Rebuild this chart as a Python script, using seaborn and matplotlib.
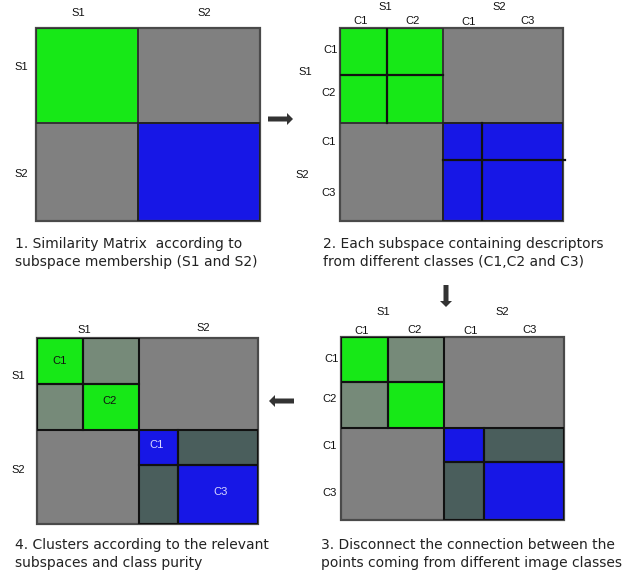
import numpy as np
import matplotlib
matplotlib.use("Agg")
import matplotlib.pyplot as plt
from matplotlib.colors import ListedColormap
from matplotlib.patches import Rectangle
import seaborn as sns

# ---- data ----
# colour categories: 0 gray (between subspaces), 1 green (S1), 2 blue (S2),
# 3 sage (S1, cut between classes), 4 slate (S2, cut between classes)
palette = ["#808080", "#17e817", "#1717e6", "#768a79", "#4a5e5c"]

# panel 1: subspaces only
p1_cols = [102, 121]
p1_rows = [95, 97]
p1_blocks = [[1, 0],
             [0, 2]]
p1_labels = ["S1", "S2"]

# panel 2: subspaces split into classes (still connected)
p2_cols = [47, 56, 39, 81]
p2_rows = [47, 48, 37, 61]
p2_blocks = [[1, 1, 0, 0],
             [1, 1, 0, 0],
             [0, 0, 2, 2],
             [0, 0, 2, 2]]
class_labels = ["C1", "C2", "C1", "C3"]

# panel 3: connections between classes removed
p3_cols = [47, 56, 40, 80]
p3_rows = [45, 46, 34, 58]
p3_blocks = [[1, 3, 0, 0],
             [3, 1, 0, 0],
             [0, 0, 2, 4],
             [0, 0, 4, 2]]

# panel 4: clusters
p4_cols = [46, 56, 39, 80]
p4_rows = [46, 46, 35, 59]
p4_blocks = p3_blocks

captions = [
    "1. Similarity Matrix  according to\nsubspace membership (S1 and S2)",
    "2. Each subspace containing descriptors\nfrom different classes (C1,C2 and C3)",
    "3. Disconnect the connection between the\npoints coming from different image classes",
    "4. Clusters according to the relevant\nsubspaces and class purity",
]

W, H = 634, 573
fig = plt.figure(figsize=(W / 100, H / 100), dpi=100)
fig.patch.set_facecolor("white")
cmap = ListedColormap(palette)
LAB = dict(family=["Liberation Sans", "DejaVu Sans"], fontsize=8, color="#111111")
CAP = dict(family=["DejaVu Sans"], fontsize=10, color="#222222")


def px_axes(x0, y0, x1, y1):
    return fig.add_axes([x0 / W, 1 - y1 / H, (x1 - x0) / W, (y1 - y0) / H])


def expand(blocks, rows, cols):
    b = np.asarray(blocks)
    m = np.repeat(b, rows, axis=0)
    return np.repeat(m, cols, axis=1)


def draw_matrix(box, blocks, rows, cols):
    ax = px_axes(*box)
    mat = expand(blocks, rows, cols)
    sns.heatmap(mat, cmap=cmap, vmin=-0.5, vmax=len(palette) - 0.5, cbar=False,
                ax=ax, xticklabels=False, yticklabels=False, rasterized=True)
    ax.set_axis_off()
    ce = np.concatenate([[0], np.cumsum(cols)])
    re = np.concatenate([[0], np.cumsum(rows)])
    ax.add_patch(Rectangle((0, 0), ce[-1], re[-1], fill=False, ec="#4a4a4a", lw=1.6,
                           clip_on=False))
    return ax, ce, re


def fig_text(x, y, s, **kw):
    fig.text(x / W, 1 - y / H, s, ha="center", va="center", **kw)


# ---- panel 1 ----
ax, ce, re = draw_matrix((36, 28, 260, 221), p1_blocks, p1_rows, p1_cols)
ax.add_patch(Rectangle((0, 0), ce[1], re[1], fill=False, ec="#333333", lw=1.4))
ax.add_patch(Rectangle((ce[1], re[1]), ce[2] - ce[1], re[2] - re[1], fill=False, ec="#222222", lw=1.4))
fig_text(78, 13, p1_labels[0], **LAB)
fig_text(204, 13, p1_labels[1], **LAB)
fig_text(21, 67, p1_labels[0], **LAB)
fig_text(21, 174, p1_labels[1], **LAB)

# ---- panel 2 ----
ax, ce, re = draw_matrix((340, 28, 563, 221), p2_blocks, p2_rows, p2_cols)
ax.add_patch(Rectangle((0, 0), ce[2], re[2], fill=False, ec="#333333", lw=1.4))
ax.add_patch(Rectangle((ce[2], re[2]), ce[4] - ce[2], re[4] - re[2], fill=False, ec="#222222", lw=1.4))
ax.plot([ce[1], ce[1]], [0, re[2]], color="#111111", lw=1.6)
ax.plot([0, ce[2]], [re[1], re[1]], color="#111111", lw=1.6)
ax.plot([ce[3], ce[3]], [re[2], re[4]], color="#111111", lw=1.6)
ax.plot([ce[2], ce[4] + 2], [re[3], re[3]], color="#111111", lw=1.6, clip_on=False)
fig_text(385, 7, "S1", **LAB)
fig_text(499, 7, "S2", **LAB)
for (x, y), s in zip([(361, 21), (413, 21), (469, 22), (528, 21)], class_labels):
    fig_text(x, y, s, **LAB)
for (x, y), s in zip([(331, 50), (329, 93), (329, 142), (329, 193)], class_labels):
    fig_text(x, y, s, **LAB)
fig_text(305, 72, "S1", **LAB)
fig_text(302, 175, "S2", **LAB)


def outline_blocks(ax, ce, re):
    for i in range(4):
        for j in range(4):
            same = (i < 2) == (j < 2)
            if same:
                ax.add_patch(Rectangle((ce[j], re[i]), ce[j + 1] - ce[j], re[i + 1] - re[i],
                                       fill=False, ec="#111111", lw=1.5))


# ---- panel 3 ----
ax, ce, re = draw_matrix((341, 337, 564, 520), p3_blocks, p3_rows, p3_cols)
outline_blocks(ax, ce, re)
fig_text(383, 312, "S1", **LAB)
fig_text(502, 312, "S2", **LAB)
for (x, y), s in zip([(362, 331), (415, 330), (471, 331), (530, 330)], class_labels):
    fig_text(x, y, s, **LAB)
for (x, y), s in zip([(332, 359), (330, 399), (330, 446), (330, 493)], class_labels):
    fig_text(x, y, s, **LAB)

# ---- panel 4 ----
ax, ce, re = draw_matrix((37, 338, 258, 524), p4_blocks, p4_rows, p4_cols)
outline_blocks(ax, ce, re)
fig_text(84, 330, "S1", **LAB)
fig_text(203, 328, "S2", **LAB)
fig_text(18, 376, "S1", **LAB)
fig_text(18, 470, "S2", **LAB)
fig_text(60, 361, "C1", **LAB)
fig_text(110, 401, "C2", **LAB)
fig_text(157, 445, "C1", **{**LAB, "color": "#d8d8ff"})
fig_text(221, 492, "C3", **{**LAB, "color": "#d8d8ff"})

# ---- captions ----
for (x, y), s in zip([(15, 253), (323, 253), (321, 554), (15, 554)], captions):
    fig.text(x / W, 1 - y / H, s, ha="left", va="center", linespacing=1.35, **CAP)

# ---- arrows (overlay in pixel coordinates) ----
ov = fig.add_axes([0, 0, 1, 1], zorder=5)
ov.set_xlim(0, W)
ov.set_ylim(H, 0)
ov.set_axis_off()
ov.patch.set_alpha(0)
akw = dict(width=5, head_width=12, head_length=6, length_includes_head=True,
           color="#333333", lw=0)
ov.arrow(268, 119, 25, 0, **akw)
ov.arrow(446, 285, 0, 22, **akw)
ov.arrow(294, 401, -25, 0, **akw)

fig.savefig("out.png", dpi=100, facecolor="white")
